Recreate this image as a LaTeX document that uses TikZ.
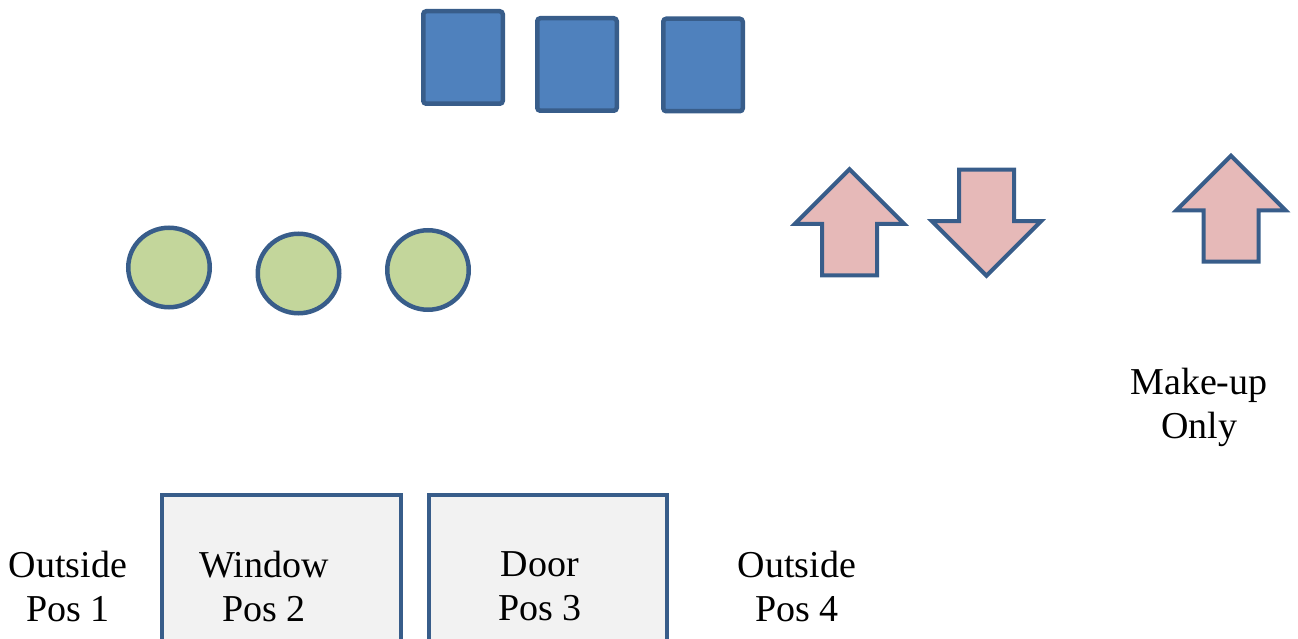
\documentclass[tikz,border=0pt]{standalone}
\usepackage{fontspec}
\setmainfont{Liberation Serif}
\usepackage{tikz}
\usepackage{xcolor}
\usetikzlibrary{shapes.geometric,shapes.arrows}

\definecolor{edgeblue}{HTML}{385D8A}
\definecolor{seatblue}{HTML}{4F81BD}
\definecolor{seatgreen}{HTML}{C3D69B}
\definecolor{seatpink}{HTML}{E6B9B8}
\definecolor{boxgray}{HTML}{F2F2F2}

\begin{document}
\begin{tikzpicture}[x=1pt,y=-1pt]
\useasboundingbox (0,0) rectangle (1298,639);
\clip (0,0) rectangle (1298,639);
\begin{scope}[every node/.style={rectangle,rounded corners=3pt,line width=4.5pt,draw=edgeblue,fill=seatblue,minimum width=79.5pt,minimum height=92.5pt,inner sep=0pt}]
\node (SQ-1) at (463.0,57.5) {};
\node (SQ-2) at (577.0,64.5) {};
\node (SQ-3) at (703.0,65.0) {};
\end{scope}\begin{scope}[every node/.style={ellipse,line width=4.5pt,draw=edgeblue,fill=seatgreen,minimum width=81.5pt,minimum height=79.5pt,inner sep=0pt}]
\node (CIRC-1) at (169.0,267.5) {};
\node (CIRC-2) at (298.5,273.5) {};
\node (CIRC-3) at (428.0,270.0) {};
\end{scope}\begin{scope}[every node/.style={single arrow,line width=4pt,draw=edgeblue,fill=seatpink,inner sep=25.5pt,single arrow head extend=27pt,single arrow tip angle=90,minimum width=105pt,minimum height=106pt}]
\node[shape border rotate=90] (ARR-1) at (849.5,236.0) {};
\node[shape border rotate=270] (ARR-2) at (986.5,209.0) {};
\node[shape border rotate=90] (ARR-3) at (1231.0,222.5) {};
\end{scope}\begin{scope}[every node/.style={rectangle,line width=4pt,draw=edgeblue,fill=boxgray,minimum height=165pt,inner sep=0pt}]
\node[minimum width=239pt] (BOX-1) at (281.5,577.5) {};
\node[minimum width=238pt] (BOX-2) at (548.0,577.5) {};
\end{scope}\begin{scope}[every node/.style={align=center,inner sep=0pt,font=\fontsize{38}{44}\selectfont}]
\node (LBL-1) at (68.0,586.0) {Outside\\Pos 1};
\node (LBL-2) at (264.0,586.0) {Window\\Pos 2};
\node (LBL-3) at (540.0,586.0) {Door\\Pos 3};
\node (LBL-4) at (797.0,586.0) {Outside\\Pos 4};
\node (LBL-5) at (1199.0,407.0) {Make-up\\Only};
\end{scope}
\end{tikzpicture}
\end{document}
